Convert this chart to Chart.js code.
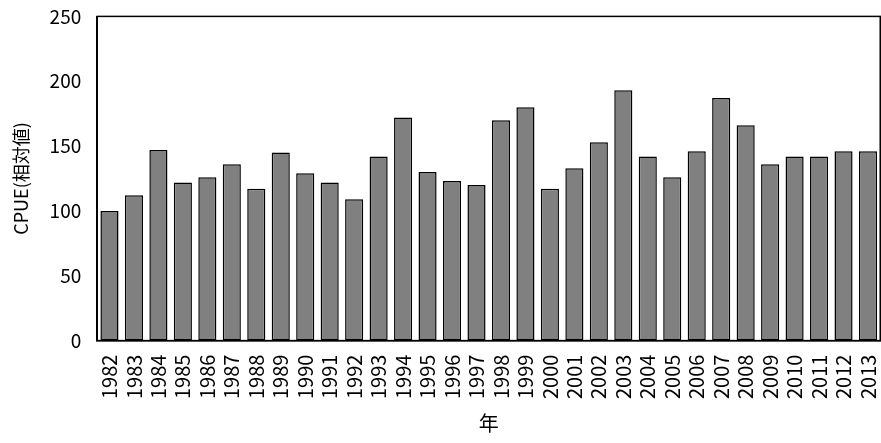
<!DOCTYPE html>
<html>
<head>
<meta charset="utf-8">
<script src="https://cdn.jsdelivr.net/npm/chart.js@4"></script>
<style>
  body { margin: 0; background: #fff; overflow: hidden; }
  #wrap { width: 898px; height: 448px; position: relative; top: -5px; }
</style>
</head>
<body>
<div id="wrap"><canvas id="c"></canvas></div>
<script>
const years = ["1982","1983","1984","1985","1986","1987","1988","1989","1990","1991","1992","1993","1994","1995","1996","1997","1998","1999","2000","2001","2002","2003","2004","2005","2006","2007","2008","2009","2010","2011","2012","2013"];
const cpue = [100,112,147,122,126,136,117,145,129,122,109,142,172,130,123,120,170,180,117,133,153,193,142,126,146,187,166,136,142,142,146,146];
const yTicks = [0,50,100,150,200,250];

const FONT = "'Noto Sans CJK JP', 'DejaVu Sans', sans-serif";

const frame = {
    id: "frame",
    afterDraw(chart) {
        const { ctx, chartArea: a } = chart;
        ctx.save();
        ctx.strokeStyle = "#000";
        ctx.lineWidth = 1.5;
        ctx.strokeRect(a.left, a.top, a.right - a.left, a.bottom - a.top);
        ctx.restore();
    },
};

new Chart(document.getElementById("c"), {
    type: "bar",
    data: {
        labels: years,
        datasets: [{
            data: cpue,
            backgroundColor: "#808080",
            borderColor: "#000",
            borderWidth: 1.5,
            borderSkipped: false,
            barPercentage: 0.74,
            categoryPercentage: 1.0,
        }],
    },
    options: {
        responsive: true,
        maintainAspectRatio: false,
        animation: false,
        layout: { padding: { top: 6, right: 0, left: 6, bottom: 4 } },
        plugins: { legend: { display: false }, tooltip: { enabled: false } },
        scales: {
            y: {
                min: 0,
                max: 250,
                afterBuildTicks: (s) => { s.ticks = yTicks.map(v => ({ value: v })); },
                grid: { display: false, drawTicks: true, tickLength: 6, color: "#000" },
                border: { color: "#000", width: 1.5 },
                ticks: { color: "#000", padding: 10, font: { size: 19, family: FONT } },
                title: { display: true, text: "CPUE(相対値)", color: "#000", font: { size: 18, family: FONT }, padding: { bottom: 8 } },
            },
            x: {
                grid: { display: false },
                border: { color: "#000", width: 1.5 },
                ticks: { color: "#000", autoSkip: false, minRotation: 90, maxRotation: 90, padding: 6, font: { size: 20, family: FONT } },
                title: { display: true, text: "年", color: "#000", font: { size: 20, family: FONT }, padding: { top: 6 } },
            },
        },
    },
    plugins: [frame],
});
</script>
</body>
</html>
